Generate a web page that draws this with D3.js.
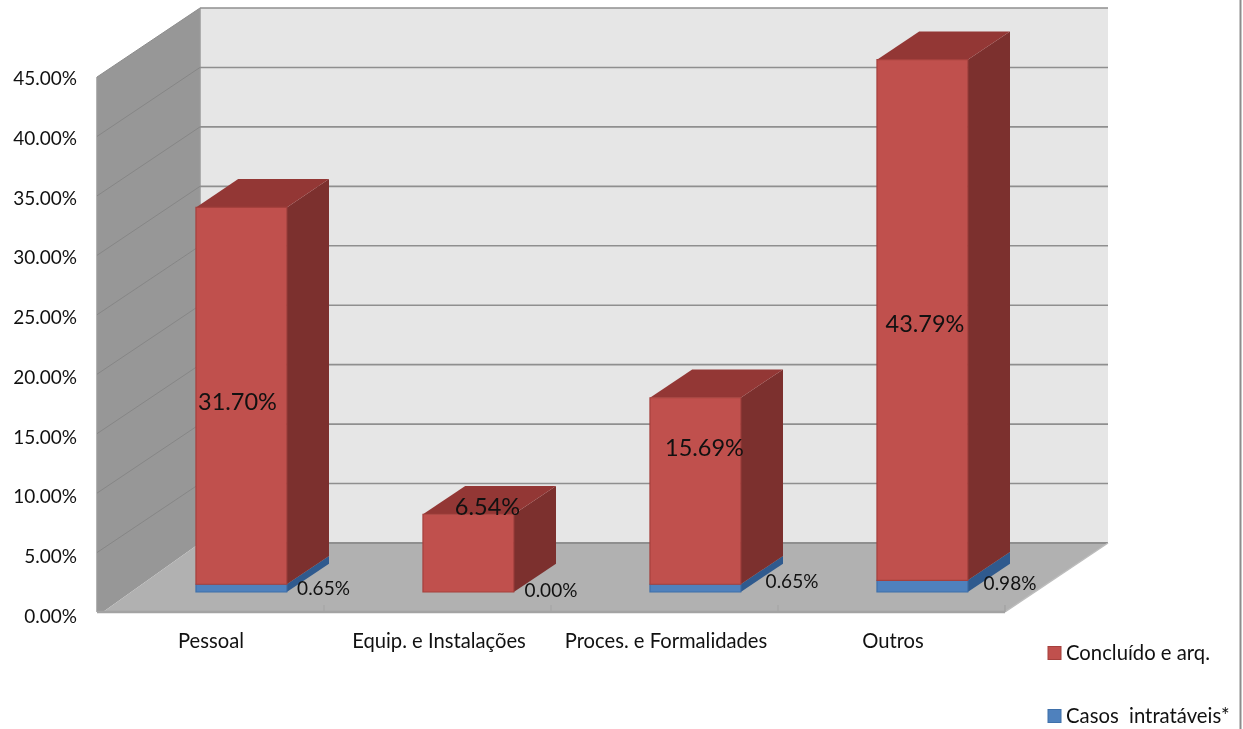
<!DOCTYPE html>
<html><head><meta charset="utf-8">
<script src="https://cdn.jsdelivr.net/npm/d3@7"></script>
<style>html,body{margin:0;background:#fff}svg{display:block;filter:blur(0.35px)}text{font-family:Lato,"Open Sans",sans-serif;fill:#111}</style>
</head><body><svg id="c" width="1243" height="729"></svg>
<script>
const categories = ["Pessoal","Equip. e Instalações","Proces. e Formalidades","Outros"];
const casosIntrataveis = [0.65,0.00,0.65,0.98];
const concluidoArq = [31.70,6.54,15.69,43.79];
const seriesNames = ["Concluído e arq.","Casos  intratáveis*"];
const yTicks = [0,5,10,15,20,25,30,35,40,45];
// hand-placed label centres, as in the reference (layout only)
const redLabelAt = [[237.5,402],[487.5,507],[704.5,448],[925,324]];
const blueLabelAt = [[323.5,589],[551,591],[792,582],[1010,584]];
const catLabelX = [211,439,666,893];

const svg = d3.select("#c");
const x = d3.scaleBand().domain(categories).range([98,1006]).paddingInner(0.6).paddingOuter(0.3);
const y = d3.scaleLinear().domain([0,45]).range([612,77]);
const yLabel = d3.scaleLinear().domain([0,45]).range([617,79]);
const DX = 103, DY = 69;
const P = (px,v,d) => [px + d*DX, y(v) - d*DY];
const line = d3.line();
const poly = (pts,fill,stroke,sw=1) => svg.append("path").attr("d",line(pts)+"Z").attr("fill",fill).attr("stroke",stroke||"none").attr("stroke-width",sw);
const seg = (a,b,c,w) => svg.append("path").attr("d",line([a,b])).attr("stroke",c).attr("stroke-width",w).attr("fill","none");

const x0 = 97, x1 = 1005;
// back wall, side wall, floor
poly([P(x0,0,1),P(x1,0,1),P(x1,45,1),P(x0,45,1)],"#e6e6e6");
poly([P(x0,0,0),P(x0+6,0,0),P(x0,0,1),P(x0,45,1),P(x0,45,0)],"#979797");
poly([P(x0+6,0,0),P(x1,0,0),P(x1,0,1),P(x0,0,1)],"#b1b1b1");
seg(P(x0,0,0),P(x0,45,0),"#9a9a9a",1.5);
seg(P(x0,45,0),P(x0,45,1),"#8c8c8c",1);
seg(P(x0,45,1),P(x0,0,1),"#9a9a9a",1.5);
// gridlines
yTicks.forEach(t=>{
  seg(P(x0,t,1),P(x1,t,1),"#8f8f8f",t===0?2:1.6);
  if(t>0&&t<45) seg(P(x0,t,0),P(x0,t,1),"#868686",1);
});
seg(P(x1,0,0),P(x1,0,1),"#bdbdbd",1.5);
seg(P(x0,0,0),P(x1,0,0),"#a3a3a3",2.5);
// category ticks
[...categories.map(c=>x(c)+x.bandwidth()+x.step()*0.3-1), x1].forEach(px=>{
  seg([px,y(0)],[px,y(0)-7],"#a3a3a3",1);
});

// stacked 3D bars
const dF = 0.29, dB = 0.70;
const cuboid = (c,v0,v1,cols,drawTop) => {
  const a = x(c), b = a + x.bandwidth();
  poly([P(b,v0,dF),P(b,v0,dB),P(b,v1,dB),P(b,v1,dF)],cols.side);
  if(drawTop) poly([P(a,v1,dF),P(b,v1,dF),P(b,v1,dB),P(a,v1,dB)],cols.top);
  poly([P(a,v0,dF),P(b,v0,dF),P(b,v1,dF),P(a,v1,dF)],cols.front,cols.edge,1.2);
};
const red = {front:"#c0504d",side:"#7c302e",top:"#933735",edge:"#a5403d"};
const blue = {front:"#4f81bd",side:"#2f5a8e",top:"#3c6596",edge:"#3f70aa"};
categories.forEach((c,i)=>{
  const b = casosIntrataveis[i], r = concluidoArq[i];
  if(b>0) cuboid(c,0,b,blue,false);
  cuboid(c,b,b+r,red,true);
});

// y axis labels
yTicks.forEach(t=>{
  svg.append("text").attr("x",77).attr("y",yLabel(t)+6).attr("text-anchor","end").attr("font-size",19).text(d3.format(".2f")(t)+"%");
});
// category labels
categories.forEach((c,i)=>{
  svg.append("text").attr("x",catLabelX[i]).attr("y",648).attr("text-anchor","middle").attr("font-size",20.2).text(c);
});
// data labels
concluidoArq.forEach((v,i)=>{
  svg.append("text").attr("x",redLabelAt[i][0]).attr("y",redLabelAt[i][1]+8).attr("text-anchor","middle").attr("font-size",23.5).text(d3.format(".2f")(v)+"%");
});
casosIntrataveis.forEach((v,i)=>{
  svg.append("text").attr("x",blueLabelAt[i][0]).attr("y",blueLabelAt[i][1]+6).attr("text-anchor","middle").attr("font-size",19).text(d3.format(".2f")(v)+"%");
});
// legend
[[0,653,red],[1,716,blue]].forEach(([i,ly,col])=>{
  svg.append("rect").attr("x",1048).attr("y",ly-6.5).attr("width",13).attr("height",13).attr("fill",col.front).attr("stroke",col.edge);
  svg.append("text").attr("x",1066).attr("y",ly+6.5).attr("font-size",20.3).style("white-space","pre").text(seriesNames[i]);
});
// right frame line
seg([1240.5,0],[1240.5,729],"#8c8c8c",2);
</script></body></html>
